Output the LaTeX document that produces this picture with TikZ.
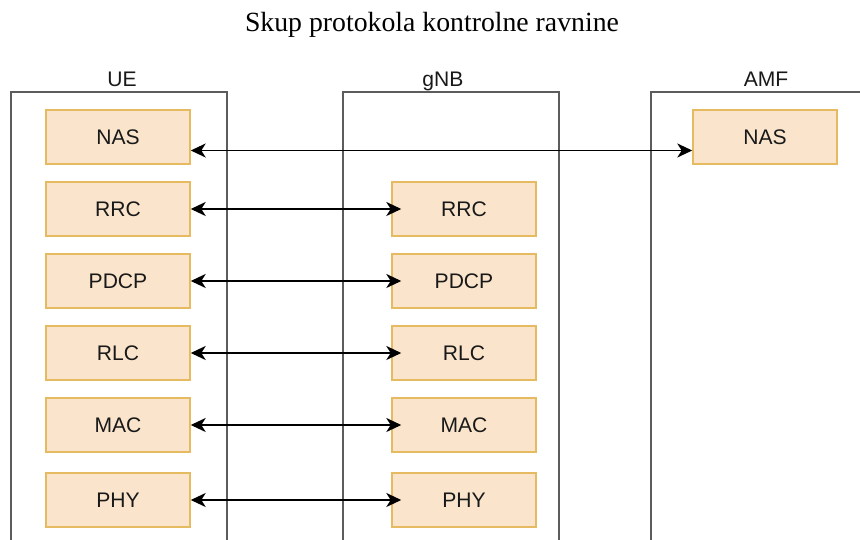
\documentclass[tikz,border=0pt]{standalone}
\usepackage{fontspec}
\setmainfont{Liberation Serif}
\setsansfont{Liberation Sans}
\usetikzlibrary{arrows.meta}
\definecolor{slojpoz}{RGB}{250,229,204}
\definecolor{slojrub}{RGB}{230,186,96}
\definecolor{okvirsiva}{RGB}{92,92,92}

\begin{document}
\begin{tikzpicture}[x=0.02cm, y=-0.02cm,
	sloj/.style={draw=slojrub, fill=slojpoz, line width=0.9pt, inner sep=0pt,
		minimum width=2.88cm, minimum height=1.08cm,
		font=\sffamily\fontsize{12}{14}\selectfont, text=black!90},
	okvir/.style={draw=okvirsiva, line width=1.1pt},
	natpis/.style={anchor=base, font=\sffamily\fontsize{12}{14}\selectfont, text=black!90},
	veza/.style={line width=0.9pt,
		{Stealth[length=8.5pt, width=8pt, inset=2.5pt]}-{Stealth[length=8.5pt, width=8pt, inset=2.5pt]}}]
	\useasboundingbox (0, 0) rectangle (860, 540);
% naslov
	\node[anchor=base, font=\fontsize{15.8}{19}\selectfont] (naslov) at (432, 32) {Skup protokola kontrolne ravnine};
% UE
	\draw[okvir] (11, 540)-- (11, 92)-- (227, 92)-- (227, 540); %
	\node[natpis] (ue) at (122, 87) {UE};
% gNB
	\draw[okvir] (343, 540)-- (343, 92)-- (559, 92)-- (559, 540); %
	\node[natpis] (gnb) at (443, 87) {gNB};
% AMF
	\draw[okvir] (651, 540)-- (651, 92)-- (860, 92); %desni rub otvoren
	\node[natpis] (amf) at (766, 87) {AMF};
% NAS
	\node[sloj] (ueNAS) at (118, 137) {NAS};
	\node[sloj] (amfNAS) at (765, 137) {NAS};
	\draw[veza] ([yshift=-0.27cm]ueNAS.east)-- ([yshift=-0.27cm]amfNAS.west);
% ostali slojevi
	\foreach \ime/\y in {RRC/209, PDCP/281, RLC/353, MAC/425, PHY/500}{
		\node[sloj] (ue\ime) at (118, \y) {\ime};
		\node[sloj] (gnb\ime) at (464, \y) {\ime};
		\draw[veza] (ue\ime.east)-- ([xshift=0.2cm]gnb\ime.west);
	}
\end{tikzpicture}
\end{document}
